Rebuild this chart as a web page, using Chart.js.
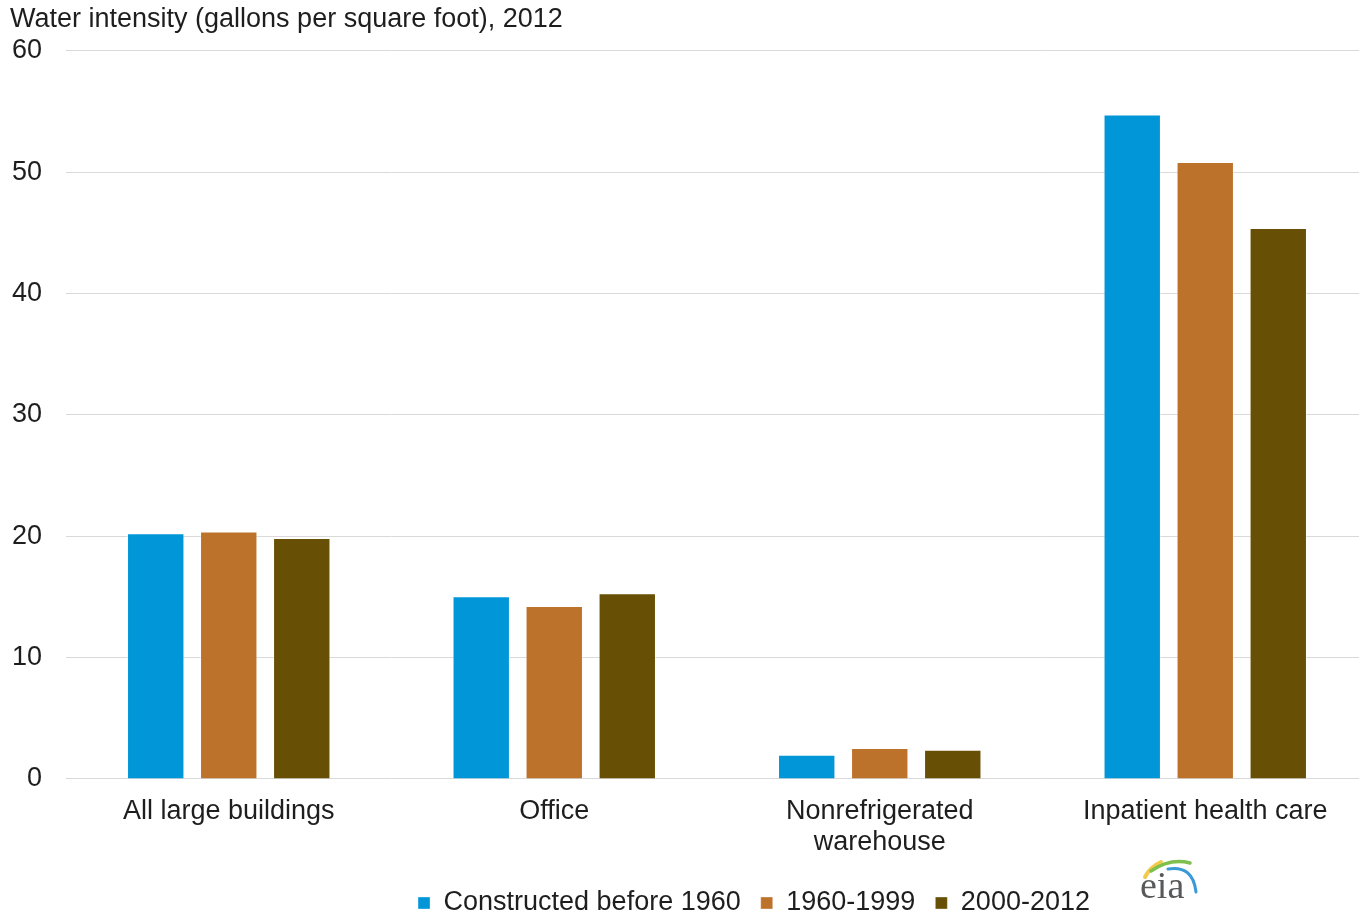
<!DOCTYPE html>
<html>
<head>
<meta charset="utf-8">
<script src="https://cdn.jsdelivr.net/npm/chart.js@4"></script>
<style>
  html, body { margin: 0; padding: 0; background: #fff; overflow: hidden; }
  #wrap { width: 1368px; height: 914px; position: relative; }
</style>
</head>
<body>
<div id="wrap"><canvas id="waterChart"></canvas></div>
<script>
const CATEGORIES = ['All large buildings', 'Office', ['Nonrefrigerated', 'warehouse'], 'Inpatient health care'];
const SERIES_NAMES = ['Constructed before 1960', '1960-1999', '2000-2012'];
const BEFORE_1960 = [20.25, 15.05, 2.0, 54.75];
const FROM_1960   = [20.4, 14.25, 2.55, 50.85];
const FROM_2000   = [19.85, 15.3, 2.4, 45.4];
const Y_TICKS     = [0, 10, 20, 30, 40, 50, 60];

const COLORS = ['#0096d8', '#bd722b', '#684f06'];
const FONT   = "'Liberation Sans', Arial, sans-serif";
const INK    = '#1e1e1e';

// legend row sits right of centre and lower down; the eia mark goes beside it
const extras = {
  id: 'extras',
  afterLayout(chart) {
    const lg = chart.legend;
    lg.left += 130;
    const dy = 898 - (lg.top + lg.bottom) / 2;
    lg.top += dy;
    lg.bottom += dy;
  },
  afterDraw(chart) {
    const ctx = chart.ctx;
    ctx.save();
    ctx.lineCap = 'round';
    const swoosh = (color, w, x0, y0, cx, cy, x1, y1) => {
      ctx.strokeStyle = color;
      ctx.lineWidth = w;
      ctx.beginPath();
      ctx.moveTo(x0, y0);
      ctx.quadraticCurveTo(cx, cy, x1, y1);
      ctx.stroke();
    };
    swoosh('#f3c94a', 4, 1145, 877, 1150, 867, 1161, 862);
    swoosh('#7fbf4d', 3.5, 1151, 871, 1170, 858, 1190, 863);
    swoosh('#3a9ad6', 3, 1168, 869, 1193, 865, 1196, 892);
    ctx.fillStyle = '#58595b';
    ctx.font = "38px 'Liberation Serif', serif";
    ctx.textBaseline = 'alphabetic';
    ctx.fillText('eia', 1140, 898);
    ctx.restore();
  }
};

const ctx = document.getElementById('waterChart').getContext('2d');

new Chart(ctx, {
  type: 'bar',
  data: {
    labels: CATEGORIES,
    datasets: [BEFORE_1960, FROM_1960, FROM_2000].map((vals, i) => ({
      label: SERIES_NAMES[i],
      data: vals,
      backgroundColor: COLORS[i],
      borderColor: 'rgba(255,255,255,0.35)',
      borderWidth: 1,
      categoryPercentage: 0.673,
      barPercentage: 0.786,
    }))
  },
  options: {
    responsive: true,
    maintainAspectRatio: false,
    animation: false,
    layout: { padding: { left: 10, right: 0, top: 0, bottom: 0 } },
    plugins: {
      title: {
        display: true,
        text: 'Water intensity (gallons per square foot), 2012',
        align: 'start',
        color: INK,
        font: { family: FONT, size: 27, weight: 'normal' },
        padding: { top: 3, bottom: 15.5 },
      },
      legend: {
        position: 'bottom',
        labels: {
          color: INK,
          font: { family: FONT, size: 27 },
          boxWidth: 12,
          boxHeight: 12,
          padding: 20,
        }
      },
      tooltip: { enabled: false }
    },
    scales: {
      x: {
        afterFit: axis => { axis.height -= 10; },
        grid: { display: false },
        border: { display: false },
        ticks: {
          color: INK,
          font: { family: FONT, size: 27, lineHeight: 1.15 },
          padding: 9,
          maxRotation: 0,
          autoSkip: false,
        }
      },
      y: {
        min: 0,
        max: 60,
        afterBuildTicks: axis => { axis.ticks = Y_TICKS.map(v => ({ value: v })); },
        afterFit: axis => { axis.width = 56; },
        grid: { color: '#d9d9d9', lineWidth: 1, drawTicks: false },
        border: { display: false },
        ticks: {
          color: INK,
          font: { family: FONT, size: 27 },
          padding: 24,
        }
      }
    }
  },
  plugins: [extras]
});
</script>
</body>
</html>
